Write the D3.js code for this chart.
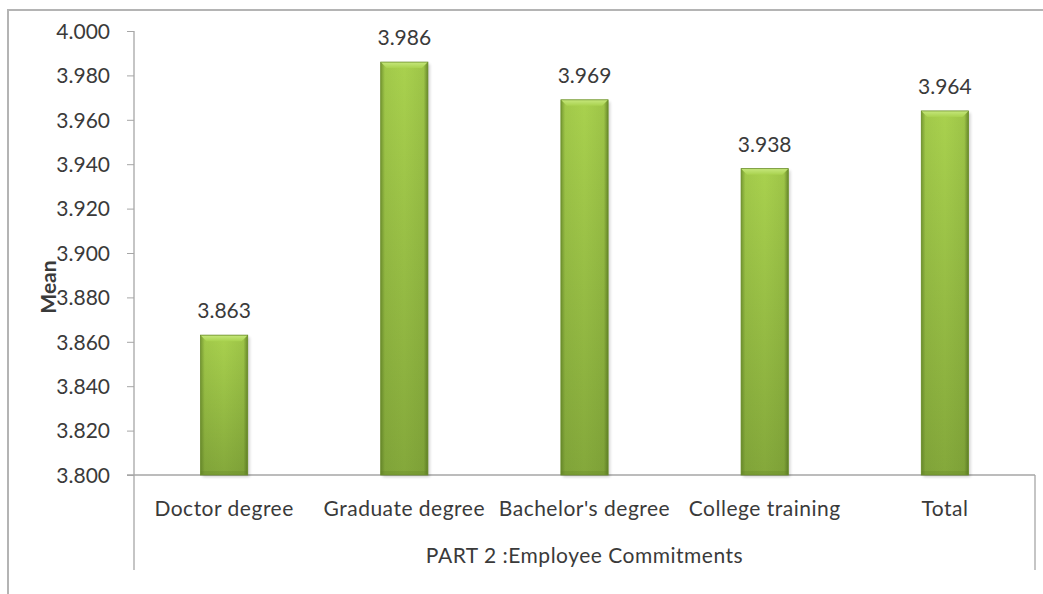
<!DOCTYPE html>
<html>
<head>
<meta charset="utf-8">
<script src="https://cdn.jsdelivr.net/npm/d3@7"></script>
<style>
  html, body { margin: 0; padding: 0; background: #fff; }
  svg { display: block; }
  text { font-family: Lato, "Open Sans", sans-serif; fill: #3a3a3a; }
</style>
</head>
<body>
<svg id="chart" width="1043" height="594"></svg>
<script>
// Mean scores by education level
const categories = ["Doctor degree", "Graduate degree", "Bachelor's degree", "College training", "Total"];
const means = [3.863, 3.986, 3.969, 3.938, 3.964];
const yTicks = [3.800, 3.820, 3.840, 3.860, 3.880, 3.900, 3.920, 3.940, 3.960, 3.980, 4.000];
const groupLabel = "PART 2 :Employee Commitments";
const yTitle = "Mean";

const svg = d3.select("#chart");
const W = 1043, H = 594;
const plot = { left: 134, right: 1035, top: 31, bottom: 475 };
const axisBottom = 570;
const axisColor = "#a6a6a6";
const fontSize = 21;

// outer chart frame (partly outside the canvas)
svg.append("rect")
  .attr("x", 8).attr("y", 10)
  .attr("width", W + 20).attr("height", H + 20)
  .attr("fill", "none").attr("stroke", "#b4b4b4").attr("stroke-width", 2);

const x = d3.scaleBand().domain(categories).range([plot.left, plot.right]).paddingInner(0).paddingOuter(0);
const y = d3.scaleLinear().domain([3.8, 4.0]).range([plot.bottom, plot.top]);
const barW = x.bandwidth() * 0.262;

// gradients for the bevelled bars
const defs = svg.append("defs");
const gV = defs.append("linearGradient").attr("id", "barV").attr("x1", 0).attr("y1", 0).attr("x2", 0).attr("y2", 1);
gV.append("stop").attr("offset", "0%").attr("stop-color", "#a9d14e");
gV.append("stop").attr("offset", "100%").attr("stop-color", "#84a83b");
const gH = defs.append("linearGradient").attr("id", "barH").attr("x1", 0).attr("y1", 0).attr("x2", 1).attr("y2", 0);
gH.append("stop").attr("offset", "0%").attr("stop-color", "#4d6b1c").attr("stop-opacity", 0.55);
gH.append("stop").attr("offset", "9%").attr("stop-color", "#4d6b1c").attr("stop-opacity", 0.08);
gH.append("stop").attr("offset", "50%").attr("stop-color", "#4d6b1c").attr("stop-opacity", 0);
gH.append("stop").attr("offset", "91%").attr("stop-color", "#4d6b1c").attr("stop-opacity", 0.12);
gH.append("stop").attr("offset", "100%").attr("stop-color", "#4d6b1c").attr("stop-opacity", 0.7);
const gTop = defs.append("linearGradient").attr("id", "barTop").attr("x1", 0).attr("y1", 0).attr("x2", 0).attr("y2", 1);
gTop.append("stop").attr("offset", "0%").attr("stop-color", "#c6e77c");
gTop.append("stop").attr("offset", "100%").attr("stop-color", "#a9d24f");
const blur = defs.append("filter").attr("id", "shadow").attr("x", "-20%").attr("y", "-20%").attr("width", "140%").attr("height", "140%");
blur.append("feGaussianBlur").attr("stdDeviation", 1.5);

// y axis ticks and labels
const yAxis = svg.append("g").attr("transform", `translate(${plot.left},0)`)
  .call(d3.axisLeft(y).tickValues(yTicks).tickFormat(d3.format(".3f")).tickSize(7).tickPadding(17));
yAxis.select(".domain").remove();
yAxis.selectAll(".tick line").attr("stroke", axisColor);
yAxis.selectAll(".tick text").attr("font-size", fontSize).attr("fill", "#3a3a3a")
  .style("font-family", "Lato, 'Open Sans', sans-serif").attr("dy", "0.35em");

// axis lines: vertical value axis extending through the category rows, baseline and right border
svg.append("line").attr("x1", plot.left).attr("x2", plot.left).attr("y1", plot.top).attr("y2", axisBottom)
  .attr("stroke", axisColor).attr("stroke-width", 1.3);
svg.append("line").attr("x1", plot.left - 7).attr("x2", plot.right).attr("y1", plot.bottom).attr("y2", plot.bottom)
  .attr("stroke", axisColor).attr("stroke-width", 1.3);
svg.append("line").attr("x1", plot.right).attr("x2", plot.right).attr("y1", plot.bottom).attr("y2", axisBottom)
  .attr("stroke", axisColor).attr("stroke-width", 1.3);

// bars
const bars = svg.append("g").selectAll("g").data(categories).join("g");
bars.each(function (c, i) {
  const g = d3.select(this);
  const cx = x(c) + x.bandwidth() / 2;
  const x0 = cx - barW / 2, x1 = cx + barW / 2;
  const yt = y(means[i]), yb = y(3.8);
  g.append("rect").attr("x", x0 + 2).attr("y", yt + 2).attr("width", barW).attr("height", yb - yt)
    .attr("fill", "#000").attr("opacity", 0.18).attr("filter", "url(#shadow)");
  g.append("rect").attr("x", x0).attr("y", yt).attr("width", barW).attr("height", yb - yt).attr("fill", "url(#barV)");
  g.append("rect").attr("x", x0).attr("y", yt).attr("width", barW).attr("height", yb - yt).attr("fill", "url(#barH)");
  const b = 6;
  g.append("path")
    .attr("d", `M${x0},${yt} L${x1},${yt} L${x1 - b},${yt + b} L${x0 + b},${yt + b} Z`)
    .attr("fill", "url(#barTop)");
  g.append("rect").attr("x", x0).attr("y", yb - 4).attr("width", barW).attr("height", 4)
    .attr("fill", "#5f7f24").attr("opacity", 0.25);
  g.append("rect").attr("x", x0).attr("y", yt).attr("width", barW).attr("height", yb - yt)
    .attr("fill", "none").attr("stroke", "#6b8e2b").attr("stroke-width", 0.8);
  g.append("text").attr("x", cx).attr("y", yt - 17).attr("text-anchor", "middle")
    .attr("font-size", fontSize).text(d3.format(".3f")(means[i]));
});

// category labels
svg.append("g").selectAll("text").data(categories).join("text")
  .attr("x", d => x(d) + x.bandwidth() / 2).attr("y", 516)
  .attr("text-anchor", "middle").attr("font-size", fontSize).attr("letter-spacing", 0.5).text(d => d);

// group label
svg.append("text").attr("x", (plot.left + plot.right) / 2).attr("y", 563)
  .attr("text-anchor", "middle").attr("font-size", fontSize).attr("letter-spacing", 0.5).text(groupLabel);

// y axis title
svg.append("text").attr("transform", "translate(56,287) rotate(-90)")
  .attr("text-anchor", "middle").attr("font-size", fontSize).attr("font-weight", "bold")
  .attr("fill", "#1a1a1a").text(yTitle);
</script>
</body>
</html>
